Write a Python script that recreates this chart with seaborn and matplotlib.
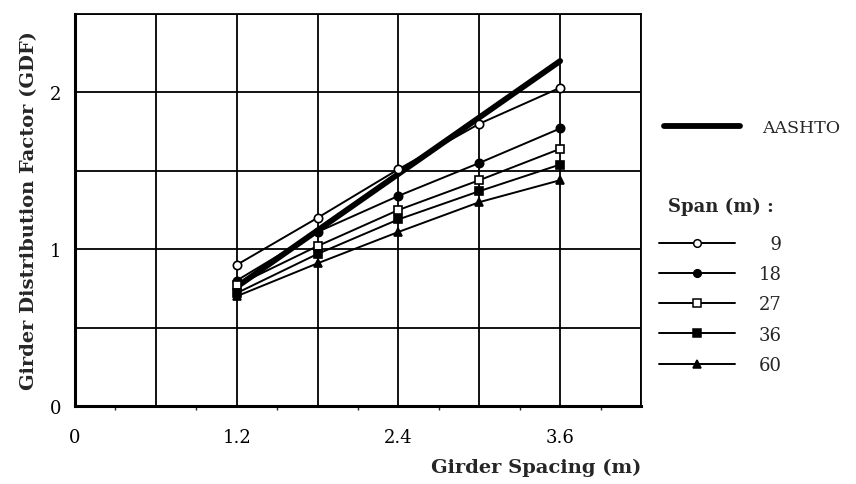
import matplotlib
matplotlib.use('Agg')
import matplotlib.pyplot as plt
import seaborn as sns
import pandas as pd
from matplotlib.lines import Line2D
from matplotlib.ticker import FixedLocator, FuncFormatter, MultipleLocator

# ---- data ----
spacing = [1.2, 1.8, 2.4, 3.0, 3.6]
aashto_x = [1.2, 3.6]
aashto_gdf = [0.76, 2.20]
span_labels = ['9', '18', '27', '36', '60']
gdf_9 = [0.90, 1.20, 1.51, 1.80, 2.03]
gdf_18 = [0.80, 1.11, 1.34, 1.55, 1.77]
gdf_27 = [0.77, 1.02, 1.25, 1.44, 1.64]
gdf_36 = [0.72, 0.97, 1.19, 1.37, 1.54]
gdf_60 = [0.70, 0.91, 1.11, 1.30, 1.44]
x_tick_labels = ['0', '1.2', '2.4', '3.6']
y_tick_labels = ['0', '1', '2']

series = {'9': gdf_9, '18': gdf_18, '27': gdf_27, '36': gdf_36, '60': gdf_60}
rows = []
for s, vals in series.items():
    for x, v in zip(spacing, vals):
        rows.append({'spacing': x, 'gdf': v, 'span': s})
df = pd.DataFrame(rows)
df_a = pd.DataFrame({'spacing': aashto_x, 'gdf': aashto_gdf})

sns.set_style('white')
plt.rcParams['font.family'] = ['DejaVu Serif']

fig = plt.figure(figsize=(8.56, 4.85), dpi=100)
ax = fig.add_axes([75/856, 78/485, (641-75)/856, (407-15)/485])

marker_style = {
    '9': dict(marker='o', markerfacecolor='white'),
    '18': dict(marker='o', markerfacecolor='black'),
    '27': dict(marker='s', markerfacecolor='white'),
    '36': dict(marker='s', markerfacecolor='black'),
    '60': dict(marker='^', markerfacecolor='black'),
}

sns.lineplot(data=df_a, x='spacing', y='gdf', color='black', lw=4.2, ax=ax, zorder=4)
for s in span_labels:
    sub = df[df['span'] == s]
    sns.lineplot(data=sub, x='spacing', y='gdf', color='black', lw=1.4,
                 markeredgecolor='black', markeredgewidth=1.2, markersize=6,
                 ax=ax, zorder=5, **marker_style[s])

ax.set_xlim(0, 4.2)
ax.set_ylim(0, 2.5)
ax.xaxis.set_major_locator(FixedLocator([0, 0.6, 1.2, 1.8, 2.4, 3.0, 3.6, 4.2]))
ax.xaxis.set_minor_locator(MultipleLocator(0.3))
ax.yaxis.set_major_locator(FixedLocator([0, 0.5, 1.0, 1.5, 2.0, 2.5]))

xl = dict(zip([0.0, 1.2, 2.4, 3.6], x_tick_labels))
yl = dict(zip([0.0, 1.0, 2.0], y_tick_labels))
ax.xaxis.set_major_formatter(FuncFormatter(lambda v, p: xl.get(round(v, 1), '')))
ax.yaxis.set_major_formatter(FuncFormatter(lambda v, p: yl.get(round(v, 1), '')))

ax.grid(True, which='major', color='black', lw=1.3)
ax.tick_params(axis='both', which='major', direction='out', length=6, width=1.3,
               labelsize=13, colors='black', pad=4)
ax.tick_params(axis='x', which='major', pad=10)
ax.tick_params(axis='x', which='minor', direction='out', length=3, width=1.0, bottom=True)
for side in ['top', 'right']:
    ax.spines[side].set_linewidth(1.3)
    ax.spines[side].set_color('black')
for side in ['left', 'bottom']:
    ax.spines[side].set_linewidth(2.2)
    ax.spines[side].set_color('black')

ax.set_xlabel('Girder Spacing (m)', fontsize=14, fontweight='bold', loc='right', labelpad=8)
ax.set_ylabel('Girder Distribution Factor (GDF)', fontsize=14, fontweight='bold', labelpad=8)

# legends
h_a = [Line2D([], [], color='black', lw=4.2)]
leg1 = fig.legend(h_a, ['AASHTO'], loc='center left', bbox_to_anchor=(648/856, 1-129/485),
                  frameon=False, handlelength=4.4, handletextpad=1.3, fontsize=12.5)
h_s = [Line2D([], [], color='black', lw=1.4, markeredgecolor='black', markersize=5.5,
              markeredgewidth=1.1, **marker_style[s]) for s in span_labels]
lbls = ['\u2007' + s if len(s) == 1 else s for s in span_labels]
leg2 = fig.legend(h_s, lbls, loc='upper left', bbox_to_anchor=(643/856, 1-182/485),
                  frameon=False, handlelength=4.2, handletextpad=1.3, fontsize=13,
                  labelspacing=0.68, title='\u2002Span (m) :', alignment='left',
                  title_fontproperties={'weight': 'bold', 'size': 13})
leg2._legend_box.sep = 14

fig.savefig('out.png', dpi=100)
